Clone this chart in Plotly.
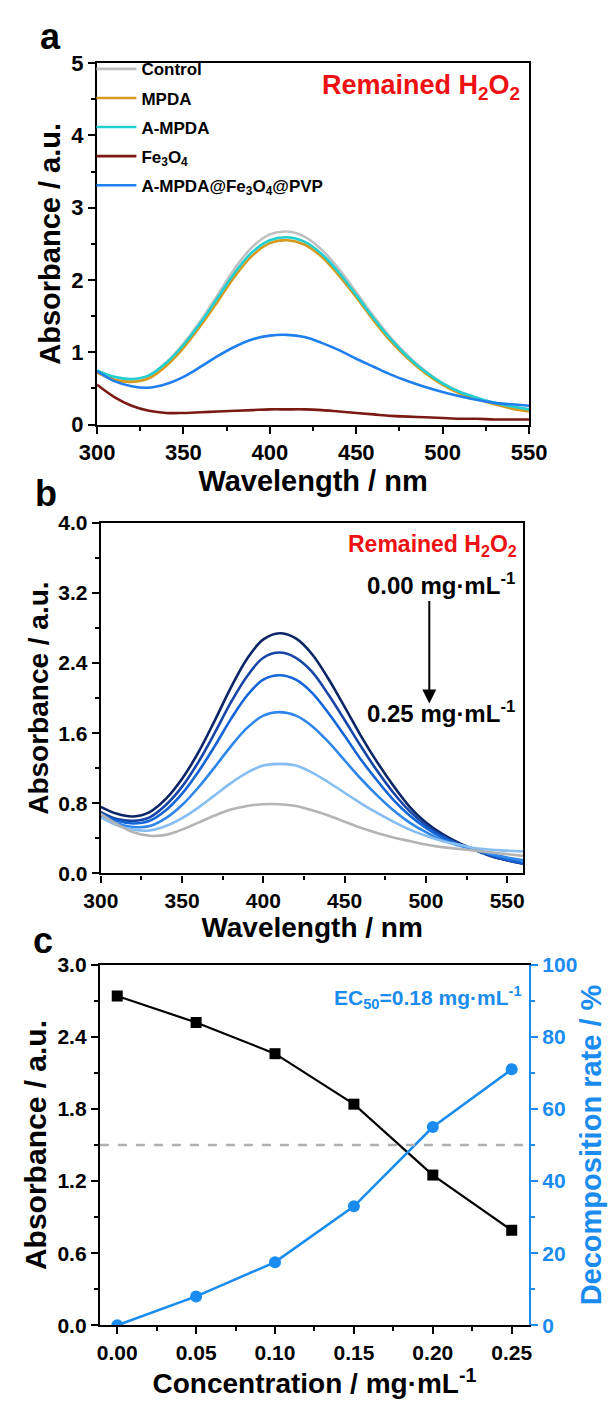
import plotly.graph_objects as go

W, H = 612, 1408
FONT = "Liberation Sans, Arial, Helvetica, sans-serif"
BLUE_AX = "#1a8cf0"

def px(x):
    return x / W

def py(y):
    return 1 - y / H

# ---------------- panel a : UV-vis spectra of remaining H2O2 ----------------
wl_a = [300, 310, 320, 330, 340, 350, 360, 370, 380, 390, 400, 410, 420, 430,
        440, 450, 460, 470, 480, 490, 500, 510, 520, 530, 540, 550]
names_a = ["Control", "MPDA", "A-MPDA", "Fe<sub>3</sub>O<sub>4</sub>",
           "A-MPDA@Fe<sub>3</sub>O<sub>4</sub>@PVP"]
colors_a = ["#c0c0c0", "#d49a1e", "#22cfd0", "#7a1a12", "#1f7ff0"]
control = [0.74, 0.65, 0.62, 0.68, 0.86, 1.12, 1.44, 1.80, 2.17, 2.46, 2.63, 2.67, 2.60, 2.42,
           2.15, 1.83, 1.50, 1.20, 0.95, 0.74, 0.57, 0.45, 0.37, 0.30, 0.25, 0.21]
mpda = [0.72, 0.62, 0.59, 0.64, 0.81, 1.06, 1.37, 1.71, 2.06, 2.34, 2.51, 2.55, 2.49, 2.32,
        2.06, 1.76, 1.44, 1.15, 0.91, 0.71, 0.55, 0.43, 0.35, 0.28, 0.22, 0.18]
a_mpda = [0.75, 0.66, 0.63, 0.68, 0.85, 1.10, 1.41, 1.76, 2.11, 2.39, 2.55, 2.59, 2.53, 2.36,
          2.10, 1.79, 1.47, 1.18, 0.93, 0.73, 0.57, 0.45, 0.37, 0.30, 0.25, 0.21]
fe3o4 = [0.55, 0.38, 0.26, 0.19, 0.16, 0.16, 0.17, 0.18, 0.19, 0.20, 0.21, 0.21, 0.21, 0.20,
         0.18, 0.16, 0.14, 0.12, 0.11, 0.10, 0.09, 0.08, 0.08, 0.07, 0.07, 0.07]
composite = [0.74, 0.60, 0.53, 0.51, 0.56, 0.66, 0.80, 0.95, 1.08, 1.18, 1.23, 1.24, 1.21, 1.13,
             1.03, 0.91, 0.80, 0.69, 0.60, 0.52, 0.45, 0.39, 0.34, 0.30, 0.28, 0.26]
series_a = [control, mpda, a_mpda, fe3o4, composite]

# ---------------- panel b : concentration series ----------------
wl_b = [300, 310, 320, 330, 340, 350, 360, 370, 380, 390, 400, 410, 420, 430,
        440, 450, 460, 470, 480, 490, 500, 510, 520, 530, 540, 550, 560]
colors_b = ["#0c2566", "#1746a8", "#1466d6", "#2f86ea", "#86bdf2", "#b4b4b4"]
c000 = [0.76, 0.68, 0.65, 0.70, 0.85, 1.08, 1.38, 1.74, 2.12, 2.45, 2.67, 2.74, 2.68, 2.50,
        2.22, 1.90, 1.57, 1.27, 1.00, 0.76, 0.58, 0.45, 0.35, 0.27, 0.20, 0.15, 0.11]
c005 = [0.70, 0.62, 0.60, 0.64, 0.78, 0.99, 1.27, 1.60, 1.95, 2.25, 2.46, 2.52, 2.46, 2.30,
        2.04, 1.75, 1.45, 1.17, 0.92, 0.71, 0.55, 0.43, 0.34, 0.27, 0.20, 0.15, 0.11]
c010 = [0.68, 0.60, 0.57, 0.60, 0.72, 0.91, 1.16, 1.45, 1.76, 2.03, 2.21, 2.26, 2.21, 2.06,
        1.83, 1.57, 1.30, 1.06, 0.84, 0.66, 0.52, 0.41, 0.33, 0.27, 0.21, 0.16, 0.12]
c015 = [0.66, 0.57, 0.53, 0.54, 0.63, 0.78, 0.98, 1.21, 1.45, 1.66, 1.80, 1.84, 1.80, 1.68,
        1.50, 1.29, 1.08, 0.89, 0.72, 0.58, 0.47, 0.38, 0.32, 0.27, 0.22, 0.18, 0.15]
c020 = [0.64, 0.55, 0.50, 0.49, 0.54, 0.63, 0.75, 0.89, 1.03, 1.15, 1.23, 1.25, 1.23, 1.15,
        1.04, 0.92, 0.80, 0.69, 0.59, 0.50, 0.43, 0.37, 0.33, 0.29, 0.27, 0.26, 0.25]
c025 = [0.68, 0.56, 0.47, 0.43, 0.44, 0.50, 0.58, 0.66, 0.73, 0.77, 0.79, 0.79, 0.77, 0.72,
        0.66, 0.59, 0.52, 0.46, 0.41, 0.37, 0.33, 0.30, 0.28, 0.26, 0.24, 0.22, 0.20]
series_b = [c000, c005, c010, c015, c020, c025]

# ---------------- panel c : absorbance and decomposition rate ----------------
conc = [0.00, 0.05, 0.10, 0.15, 0.20, 0.25]
absorbance = [2.74, 2.52, 2.26, 1.84, 1.25, 0.79]
decomposition = [0.0, 8.0, 17.5, 33.0, 55.0, 71.0]
half_abs = 1.5

fig = go.Figure()

for name, col, ys in zip(names_a, colors_a, series_a):
    fig.add_trace(go.Scatter(
        x=wl_a, y=ys, name=name, legendgroup=name, mode="lines",
        line=dict(color=col, width=2.6, shape="spline", smoothing=1.0),
        xaxis="x", yaxis="y"))

for col, ys in zip(colors_b, series_b):
    fig.add_trace(go.Scatter(
        x=wl_b, y=ys, mode="lines", showlegend=False,
        line=dict(color=col, width=2.6, shape="spline", smoothing=1.0),
        xaxis="x2", yaxis="y2"))

fig.add_trace(go.Scatter(
    x=conc, y=absorbance, mode="lines+markers", showlegend=False,
    line=dict(color="black", width=2.2),
    marker=dict(symbol="square", size=11, color="black"),
    xaxis="x3", yaxis="y3"))
fig.add_trace(go.Scatter(
    x=conc, y=decomposition, mode="lines+markers", showlegend=False,
    line=dict(color=BLUE_AX, width=2.6),
    marker=dict(symbol="circle", size=12, color=BLUE_AX),
    xaxis="x3", yaxis="y4"))


def axis(domain, rng, dtick, minor, size, title=None, tsize=26, **kw):
    d = dict(
        domain=domain, range=rng, dtick=dtick, tick0=rng[0],
        ticks="outside", ticklen=7, tickwidth=2, tickcolor="black",
        minor=dict(dtick=minor, ticks="outside", ticklen=4, tickwidth=1.6, tickcolor="black"),
        showline=True, linewidth=2.2, linecolor="black", mirror=True,
        showgrid=False, zeroline=False,
        tickfont=dict(family=FONT, size=size, color="black", weight="bold"),
    )
    if title is not None:
        d["title"] = dict(text=title, font=dict(family=FONT, size=tsize, color="black", weight="bold"))
    d.update(kw)
    return d


fig.update_layout(
    width=W, height=H, margin=dict(l=0, r=0, t=0, b=0),
    paper_bgcolor="white", plot_bgcolor="white",
    xaxis=axis([px(84), px(543)], [300, 550], 50, 25, 22, "Wavelength / nm", 29, anchor="y",
               title_standoff=0),
    yaxis=axis([py(420), py(52)], [0, 5], 1, 0.5, 22, "Absorbance / a.u.", 29, anchor="x",
               title_standoff=2),
    xaxis2=axis([px(88), px(537)], [300, 560], 50, 25, 21, "Wavelength / nm", 28, anchor="y2",
                title_standoff=0),
    yaxis2=axis([py(877), py(520)], [0, 4], 0.8, 0.4, 21, "Absorbance / a.u.", 28, anchor="x2",
                tickformat=".1f", title_standoff=2),
    xaxis3=axis([px(87), px(543)], [-0.011, 0.261], 0.05, 0.025, 21,
                "Concentration / mg·mL<sup>-1</sup>", 28, anchor="y3",
                tick0=0, tickformat=".2f", title_standoff=2),
    yaxis3=axis([py(1337), py(970)], [0, 3], 0.6, 0.3, 21, "Absorbance / a.u.", 30, anchor="x3",
                tickformat=".1f", mirror=False, title_standoff=2),
    yaxis4=dict(
        overlaying="y3", side="right", anchor="x3", range=[0, 100], dtick=20,
        ticks="outside", ticklen=7, tickwidth=2, tickcolor=BLUE_AX,
        minor=dict(dtick=10, ticks="outside", ticklen=4, tickwidth=1.6, tickcolor=BLUE_AX),
        showline=True, linewidth=2.2, linecolor=BLUE_AX, showgrid=False, zeroline=False,
        tickfont=dict(family=FONT, size=21, color=BLUE_AX, weight="bold"),
        title=dict(text="Decomposition rate / %", standoff=4,
                   font=dict(family=FONT, size=29, color=BLUE_AX, weight="bold"))),
    legend=dict(
        x=px(78), y=py(40), xanchor="left", yanchor="top",
        bgcolor="rgba(0,0,0,0)", tracegroupgap=4, itemwidth=40,
        font=dict(family=FONT, size=17, color="black", weight="bold")),
)

# reference line at half of the initial absorbance
fig.add_shape(type="line", xref="x3 domain", yref="y3", x0=0.0, x1=1.0,
              y0=half_abs, y1=half_abs, line=dict(color="#b0b0b0", width=2.6, dash="dash"))

ann = []
for lab, x, y in [("a", 35, 25), ("b", 30, 490), ("c", 27, 945)]:
    ann.append(dict(text=lab, x=px(x), y=py(y), xref="paper", yref="paper",
                    showarrow=False, xanchor="center", yanchor="middle",
                    font=dict(family=FONT, size=36, color="black", weight="bold")))

ann.append(dict(text="Remained H<sub>2</sub>O<sub>2</sub>", x=px(536), y=py(76),
                xref="paper", yref="paper", showarrow=False, xanchor="right", yanchor="middle",
                font=dict(family=FONT, size=27, color="#ee1111", weight="bold")))
ann.append(dict(text="Remained H<sub>2</sub>O<sub>2</sub>", x=px(532), y=py(543),
                xref="paper", yref="paper", showarrow=False, xanchor="right", yanchor="middle",
                font=dict(family=FONT, size=23, color="#ee1111", weight="bold")))
ann.append(dict(text="0.00 mg·mL<sup>-1</sup>", x=px(530), y=py(582),
                xref="paper", yref="paper", showarrow=False, xanchor="right", yanchor="middle",
                font=dict(family=FONT, size=24, color="black", weight="bold")))
ann.append(dict(text="0.25 mg·mL<sup>-1</sup>", x=px(530), y=py(713),
                xref="paper", yref="paper", showarrow=False, xanchor="right", yanchor="middle",
                font=dict(family=FONT, size=24, color="black", weight="bold")))
ann.append(dict(text="", x=px(437), y=py(704), xref="paper", yref="paper",
                showarrow=True, ax=0, ay=-104, arrowhead=2, arrowsize=1.4, arrowwidth=2,
                arrowcolor="black"))
ann.append(dict(text="EC<sub>50</sub>=0.18 mg·mL<sup>-1</sup>", x=px(538), y=py(1003),
                xref="paper", yref="paper", showarrow=False, xanchor="right", yanchor="middle",
                font=dict(family=FONT, size=21, color=BLUE_AX, weight="bold")))
fig.update_layout(annotations=ann)

fig.write_html("out.html")
